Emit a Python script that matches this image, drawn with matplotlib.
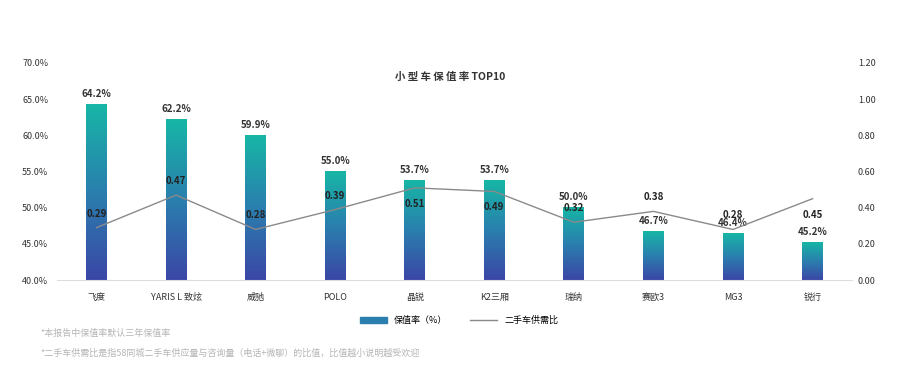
import numpy as np
import matplotlib.pyplot as plt
from matplotlib.patches import Patch
from matplotlib.lines import Line2D
from matplotlib.colors import LinearSegmentedColormap

plt.rcParams['font.family'] = ['Noto Sans CJK SC', 'DejaVu Sans']

cars = ["飞度", "YARIS L 致炫", "威驰", "POLO", "晶锐", "K2三厢", "瑞纳", "赛欧3", "MG3", "锐行"]
retention = [64.2, 62.2, 59.9, 55.0, 53.7, 53.7, 50.0, 46.7, 46.4, 45.2]
supply_ratio = [0.29, 0.47, 0.28, 0.39, 0.51, 0.49, 0.32, 0.38, 0.28, 0.45]
notes = ["*本报告中保值率默认三年保值率",
         "*二手车供需比是指58同城二手车供应量与咨询量（电话+微聊）的比值，比值越小说明越受欢迎"]

# the ratio labels that sit under their point in the original
below = {"晶锐", "K2三厢", "锐行"}

grad = LinearSegmentedColormap.from_list("g", ["#3b46a6", "#2a7fae", "#17b6a6"])

fig = plt.figure(figsize=(9, 3.75), dpi=100)
ax = fig.add_axes([0.063, 0.253, 0.884, 0.579])
ax2 = ax.twinx()

x = np.arange(len(cars))
w = 0.26
ramp = np.linspace(0, 1, 256).reshape(-1, 1)
for xi, v in zip(x, retention):
    ax.imshow(ramp, cmap=grad, origin="lower", aspect="auto",
              extent=[xi - w / 2, xi + w / 2, 40, v], zorder=2)
    ax.text(xi, v + 0.8, f"{v:.1f}%", ha="center", va="bottom",
            fontsize=7, color="#333333", fontweight="bold")
ax.set_xlim(-0.5, len(cars) - 0.5)
ax.set_ylim(40, 70)

ax.set_yticks(np.arange(40, 70.1, 5))
ax.set_yticklabels([f"{t:.1f}%" for t in np.arange(40, 70.1, 5)])
ax.set_xticks(x)
ax.set_xticklabels(cars)
ax.tick_params(length=0, labelsize=6.5, colors="#333333", pad=9)
ax.tick_params(axis="y", pad=6)
for s in ["top", "right", "left"]:
    ax.spines[s].set_visible(False)
ax.spines["bottom"].set_color("#dddddd")

ax2.plot(x, supply_ratio, color="#8a8a8a", lw=1, zorder=3)
for c, xi, v in zip(cars, x, supply_ratio):
    if c in below:
        ax2.text(xi, v - 0.06, f"{v:.2f}", ha="center", va="top",
                 fontsize=7, color="#222222", fontweight="bold")
    else:
        ax2.text(xi, v + 0.05, f"{v:.2f}", ha="center", va="bottom",
                 fontsize=7, color="#222222", fontweight="bold")
ax2.set_ylim(0, 1.2)
ax2.set_yticks(np.arange(0, 1.21, 0.2))
ax2.set_yticklabels([f"{t:.2f}" for t in np.arange(0, 1.21, 0.2)])
ax2.tick_params(length=0, labelsize=6.5, colors="#333333", pad=4)
for s in ["top", "right", "left", "bottom"]:
    ax2.spines[s].set_visible(False)

fig.text(0.5, 0.795, "小 型 车 保 值 率 TOP10", ha="center", va="center",
         fontsize=7.5, style="italic", fontweight="bold", color="#333333")

handles = [Patch(color="#2a7fae", label="保值率（%）"),
           Line2D([], [], color="#8a8a8a", lw=1, label="二手车供需比")]
fig.legend(handles=handles, loc="center", bbox_to_anchor=(0.51, 0.145),
           ncol=2, frameon=False, fontsize=6.5, handlelength=3,
           columnspacing=2.5)

fig.text(0.045, 0.11, notes[0], fontsize=6.5, color="#b5b5b5", va="center")
fig.text(0.045, 0.058, notes[1], fontsize=6.5, color="#b5b5b5", va="center")

fig.savefig("out.png", dpi=100)
